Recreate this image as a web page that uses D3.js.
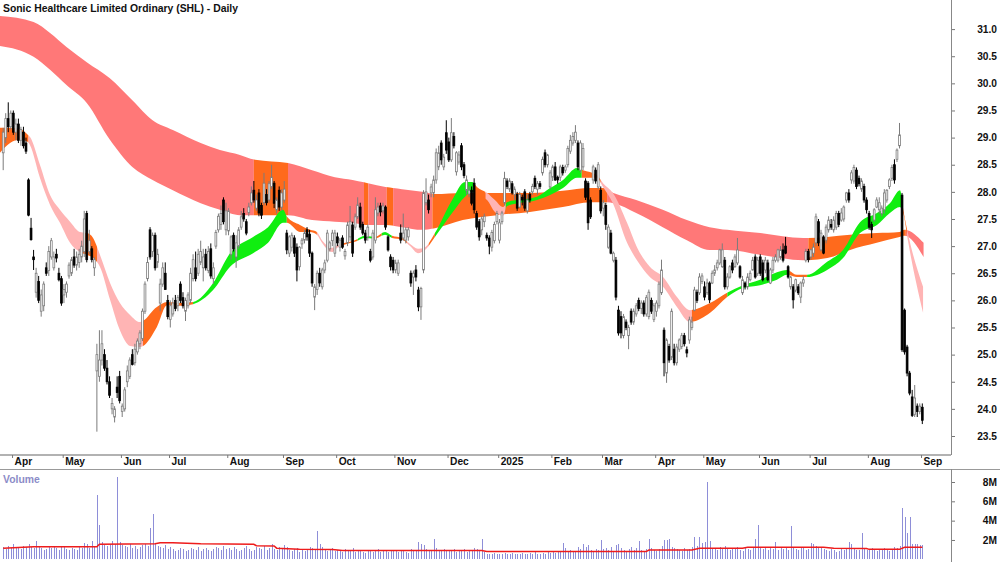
<!DOCTYPE html>
<html>
<head>
<meta charset="utf-8">
<script src="https://cdn.jsdelivr.net/npm/d3@7"></script>
<style>
body { margin: 0; background: #fff; }
text { font-family: "Liberation Sans", Arial, sans-serif; font-weight: bold; }
</style>
</head>
<body>
<svg id="chart" width="1000" height="562"></svg>
<script>
// month axis: label and index of first trading day
var months = ["Apr","May","Jun","Jul","Aug","Sep","Oct","Nov","Dec","2025","Feb","Mar","Apr","May","Jun","Jul","Aug","Sep"];
var monthStart = [4,24,47,66,89,111,132,155,176,196,217,237,258,277,299,319,342,363];

var priceTicks = [23.5,24.0,24.5,25.0,25.5,26.0,26.5,27.0,27.5,28.0,28.5,29.0,29.5,30.0,30.5,31.0];
var volumeTicks = [2,4,6,8];

// daily candles [open, high, low, close], 25 Mar 2024 .. 1 Sep 2025
var ohlc = [
// Mar 2024
[28.72,29.18,28.4,29.1],[29.0,29.45,28.9,29.35],[29.35,29.65,29.1,29.2],[29.2,29.5,29.15,29.45],
// Apr
[29.45,29.5,29.05,29.1],[29.1,29.35,28.95,29.25],[29.25,29.35,28.9,28.95],[28.95,29.2,28.85,29.15],
[29.1,29.2,28.8,28.85],[28.9,29.0,28.7,28.75],[28.22,28.25,27.55,27.57],[27.33,27.52,27.1,27.12],
[26.8,26.93,26.56,26.75],[26.15,26.6,26.05,26.5],[26.35,26.45,25.95,26.0],[25.8,26.2,25.7,26.1],
[25.9,26.35,25.8,26.3],[26.6,26.7,26.45,26.5],[26.55,27.0,26.45,26.9],[26.8,27.15,26.75,27.1],
[26.6,26.9,26.55,26.8],[26.85,26.95,26.7,26.78],[26.5,26.6,26.35,26.38],[26.4,26.45,25.9,25.95],
// May
[26.1,26.3,25.95,26.2],[26.15,26.35,26.05,26.3],[26.45,26.7,26.4,26.65],[26.5,26.8,26.45,26.75],
[26.8,26.95,26.6,26.65],[26.65,26.9,26.55,26.8],[26.7,26.95,26.6,26.85],[26.8,27.1,26.7,27.0],
[26.9,27.65,26.8,27.5],[27.6,27.65,26.7,26.75],[26.9,27.3,26.85,27.1],[26.95,27.0,26.7,26.75],
[26.6,26.8,26.45,26.75],[24.7,25.2,23.58,25.0],[24.6,25.45,24.5,24.9],[24.9,25.45,24.8,25.2],
[25.0,25.1,24.7,24.75],[24.75,24.9,24.45,24.5],[24.5,24.6,24.2,24.25],[24.0,24.2,23.9,24.1],
[23.85,24.05,23.75,24.0],[24.4,24.6,24.2,24.3],[24.6,24.7,24.1,24.15],
// Jun
[23.95,24.1,23.85,24.05],[24.0,24.4,23.95,24.35],[24.5,24.8,24.4,24.7],[24.6,24.95,24.55,24.9],
[25.0,25.1,24.8,24.82],[24.85,25.2,24.8,25.1],[25.05,25.3,25.0,25.25],[25.2,25.45,25.1,25.4],
[25.3,25.85,25.25,25.8],[25.8,26.35,25.75,26.3],[26.4,26.8,26.35,26.7],[27.3,27.35,26.75,26.8],
[26.9,27.25,26.8,27.2],[27.2,27.25,26.55,26.6],[26.7,26.95,26.6,26.85],[25.95,26.4,25.8,26.3],
[26.3,26.7,26.25,26.6],[26.5,26.7,26.2,26.2],[26.0,26.1,25.65,25.7],
// Jul
[25.65,26.0,25.5,25.9],[25.75,26.05,25.7,25.95],[26.0,26.1,25.8,25.85],[25.9,26.1,25.8,26.05],
[26.3,26.35,25.95,26.0],[26.05,26.15,25.85,25.9],[25.8,26.05,25.62,26.0],[25.9,26.15,25.85,26.1],
[26.0,26.6,25.95,26.5],[26.4,26.85,26.35,26.75],[26.6,26.9,26.35,26.4],[26.5,26.95,26.45,26.85],
[26.7,27.1,26.65,26.9],[26.6,26.95,26.35,26.8],[26.85,26.95,26.55,26.6],[26.55,27.0,26.5,26.9],
[26.95,27.05,26.4,26.45],[26.4,26.7,26.3,26.6],[27.0,27.3,26.95,27.25],[27.3,27.6,27.25,27.55],
[27.4,27.75,27.3,27.6],[27.85,27.9,27.4,27.45],[27.3,27.8,27.2,27.65],
// Aug
[27.28,27.7,27.2,27.65],[26.85,27.2,26.75,27.17],[27.2,27.25,26.9,26.95],[26.8,27.2,26.6,27.06],
[27.0,27.35,26.95,27.3],[27.35,27.65,27.3,27.54],[27.6,27.7,27.45,27.5],[27.45,27.5,27.2,27.24],
[27.62,27.8,27.55,27.72],[27.8,28.1,27.75,27.98],[28.03,28.2,27.8,27.85],[27.7,27.95,27.65,27.85],
[27.98,28.05,27.55,27.61],[27.75,27.8,27.5,27.57],[27.8,28.35,27.75,28.16],[27.95,28.05,27.75,27.8],
[27.85,28.2,27.8,28.15],[28.1,28.5,28.05,28.27],[28.16,28.2,27.7,27.79],[27.67,27.9,27.6,27.85],
[28.03,28.1,27.65,27.72],[27.72,28.05,27.65,27.98],
// Sep
[27.85,28.2,27.8,28.05],[27.24,27.3,26.85,26.93],[26.87,27.2,26.8,27.17],[26.98,27.25,26.9,27.2],
[27.15,27.2,26.8,26.87],[26.98,27.05,26.35,26.56],[26.62,27.0,26.55,26.98],[27.04,27.15,26.95,27.11],
[27.11,27.3,27.05,27.24],[27.3,27.35,27.1,27.17],[27.22,27.3,26.8,26.87],[26.87,26.9,26.25,26.32],
[26.06,26.3,25.82,26.25],[26.2,26.55,26.1,26.5],[26.5,26.6,26.25,26.32],[26.25,26.6,26.2,26.56],
[26.56,26.75,26.5,26.69],[26.74,27.3,26.7,27.24],[26.95,27.1,26.9,27.06],[27.1,27.3,27.0,27.24],
[26.87,27.3,26.8,27.24],
// Oct
[27.17,27.25,27.0,27.06],[26.98,27.15,26.9,27.11],[27.15,27.2,26.95,26.98],[26.82,26.95,26.75,26.9],
[27.06,27.45,27.0,27.39],[27.17,27.74,27.1,27.45],[27.39,27.45,26.8,26.87],[27.35,27.6,27.3,27.54],
[27.54,27.9,27.5,27.76],[27.72,27.8,27.3,27.35],[27.4,27.45,27.2,27.24],[27.24,27.3,27.05,27.11],
[27.17,27.4,27.1,27.35],[26.9,26.95,26.7,26.74],[26.8,27.3,26.75,27.24],[27.11,27.9,27.05,27.67],
[27.61,27.8,27.55,27.72],[27.74,27.8,27.55,27.63],[27.65,27.8,27.6,27.74],[27.72,27.75,27.3,27.35],
[27.17,27.2,26.9,26.93],[26.8,26.85,26.55,26.62],[26.74,26.8,26.5,26.56],
// Nov
[26.56,26.75,26.5,26.69],[26.5,26.75,26.45,26.69],[27.24,27.4,27.05,27.11],[27.15,27.6,27.1,27.24],
[27.11,27.35,27.05,27.3],[27.17,27.35,27.1,27.3],[26.5,26.55,26.25,26.32],[26.43,26.55,26.1,26.5],
[26.56,26.65,26.35,26.43],[26.19,26.25,25.8,25.88],[25.88,26.25,25.64,26.22],[26.56,28.03,26.5,27.98],
[27.8,28.25,27.75,28.0],[27.85,27.95,27.6,27.67],[27.98,28.15,27.9,28.09],[27.98,28.3,27.9,28.22],
[28.22,28.8,28.15,28.72],[28.46,28.85,28.4,28.72],[28.9,28.95,28.5,28.59],[28.46,28.7,28.4,28.64],
[29.09,29.32,28.7,28.77],
// Dec
[28.92,29.0,28.55,28.59],[28.59,29.36,28.55,29.09],[29.02,29.1,28.8,28.85],[28.37,28.75,28.3,28.72],
[28.55,28.75,28.5,28.68],[28.85,28.9,28.4,28.46],[28.5,28.55,28.25,28.3],[28.03,28.3,27.95,28.22],
[27.96,28.1,27.9,28.03],[28.03,28.1,27.75,27.79],[28.16,28.25,27.6,27.67],[27.6,27.65,27.3,27.35],
[27.45,27.5,27.1,27.17],[27.3,27.55,27.2,27.5],[27.45,27.6,27.35,27.55],[27.2,27.25,27.1,27.15],
[27.15,27.2,26.85,27.0],[26.98,27.3,26.9,27.25],[27.1,27.45,27.05,27.4],[27.45,27.65,27.4,27.6],
// Jan 2025
[27.11,27.5,27.05,27.43],[27.45,27.65,27.4,27.61],[27.8,28.37,27.75,28.25],[28.2,28.25,28.05,28.1],
[28.05,28.25,28.0,28.2],[28.15,28.2,27.95,27.98],[27.95,28.1,27.85,28.05],[27.95,28.0,27.65,27.7],
[27.72,28.0,27.7,27.95],[27.9,27.95,27.75,27.85],[28.0,28.05,27.65,27.7],[27.65,27.95,27.6,27.85],
[27.95,28.0,27.8,27.85],[28.0,28.15,27.95,28.1],[28.25,28.3,28.05,28.1],[28.05,28.2,27.95,28.15],
[28.15,28.2,28.05,28.1],[28.35,28.65,28.3,28.6],[28.72,28.78,28.45,28.5],[28.5,28.7,28.45,28.68],
[28.09,28.4,28.05,28.35],
// Feb
[28.27,28.5,28.2,28.46],[28.46,28.55,28.2,28.22],[28.27,28.3,28.15,28.22],[28.27,28.5,28.2,28.46],
[28.45,28.5,28.3,28.35],[28.4,28.5,28.35,28.46],[28.5,28.85,28.45,28.8],[28.75,29.05,28.7,28.95],
[28.9,29.1,28.85,29.02],[28.95,29.23,28.9,29.1],[28.9,28.95,28.4,28.46],[28.4,28.95,28.35,28.9],
[28.46,28.9,28.4,28.8],[28.2,28.25,27.85,27.9],[28.16,28.2,27.3,27.43],[27.85,27.9,27.5,27.54],
[28.22,28.5,28.15,28.46],[28.4,28.45,28.15,28.2],[28.09,28.55,28.05,28.5],[28.03,28.1,27.6,27.65],
// Mar
[27.7,27.85,27.55,27.8],[27.75,27.8,27.3,27.4],[26.98,27.4,26.95,27.35],[27.24,27.3,26.85,26.87],
[26.74,26.9,26.7,26.87],[26.74,26.8,26.0,26.06],[25.82,25.9,25.35,25.4],[25.7,25.8,25.3,25.4],
[25.35,25.75,25.3,25.7],[25.6,25.65,25.45,25.5],[25.35,25.55,25.1,25.5],[25.8,25.85,25.55,25.6],
[25.6,25.85,25.55,25.8],[25.75,25.95,25.7,25.9],[26.0,26.05,25.8,25.85],[25.85,26.0,25.75,25.95],
[25.95,26.0,25.7,25.75],[25.75,26.1,25.7,26.05],[25.7,26.2,25.65,26.15],[26.0,26.05,25.75,25.8],
[25.65,25.95,25.6,25.9],
// Apr
[25.8,26.0,25.7,25.95],[25.9,26.35,25.85,26.3],[26.14,26.75,26.1,26.56],[25.45,25.5,24.6,24.85],
[24.66,25.3,24.48,25.27],[25.15,25.2,24.85,24.9],[24.95,25.85,24.9,25.8],[25.1,25.2,24.8,24.85],
[24.85,25.2,24.8,25.14],[25.1,25.3,25.05,25.27],[25.15,25.4,25.1,25.35],[25.35,25.4,25.15,25.2],
[25.09,25.15,24.95,25.03],[25.27,25.7,25.2,25.64],[25.5,25.7,25.45,25.6],[25.82,26.25,25.8,26.19],
[26.15,26.2,25.95,26.0],[26.14,26.5,26.1,26.43],[26.35,26.5,26.3,26.45],
// May
[26.25,26.35,26.0,26.06],[26.14,26.4,26.1,26.32],[26.32,26.35,25.95,26.01],[26.32,26.55,26.3,26.5],
[26.5,26.65,26.45,26.56],[26.6,26.75,26.55,26.69],[26.69,26.95,26.65,26.93],[26.62,27.05,26.6,26.93],
[26.74,26.8,26.2,26.25],[26.25,26.5,26.2,26.43],[26.43,26.65,26.4,26.62],[26.69,26.75,26.5,26.56],
[26.62,26.85,26.6,26.8],[26.69,27.15,26.65,26.93],[26.62,26.65,26.4,26.43],[26.14,26.45,26.1,26.38],
[26.32,26.35,26.2,26.25],[26.25,26.5,26.2,26.43],[26.38,26.55,26.35,26.5],[26.56,26.8,26.55,26.74],
[26.8,26.85,26.4,26.43],[26.5,26.8,26.45,26.74],
// Jun
[26.8,26.85,26.45,26.5],[26.69,26.75,26.35,26.38],[26.56,26.8,26.5,26.74],[26.69,26.75,26.35,26.38],
[26.32,26.6,26.3,26.56],[26.56,26.8,26.5,26.74],[26.74,26.85,26.7,26.8],[26.74,26.95,26.7,26.93],
[26.8,27.0,26.75,26.93],[26.93,27.05,26.7,26.74],[27.0,27.17,26.85,26.87],[26.62,26.65,26.4,26.43],
[26.25,26.45,26.2,26.43],[26.25,26.3,25.85,26.01],[26.19,26.4,26.15,26.38],[26.25,26.3,26.1,26.14],
[26.06,26.35,25.95,26.32],[26.32,26.45,26.25,26.38],[26.74,26.95,26.7,26.9],[26.9,26.95,26.7,26.75],
// Jul
[26.8,26.95,26.75,26.93],[26.87,27.05,26.8,26.98],[27.06,27.6,27.0,27.54],[27.45,27.5,27.0,27.06],
[26.93,27.3,26.9,27.24],[27.17,27.2,26.85,26.87],[27.11,27.4,27.05,27.35],[27.3,27.55,27.25,27.48],
[27.4,27.5,27.3,27.35],[27.3,27.55,27.25,27.48],[27.35,27.65,27.3,27.6],[27.6,27.65,27.35,27.4],
[27.48,27.7,27.45,27.61],[27.5,27.75,27.45,27.72],[27.85,28.0,27.8,27.98],[27.98,28.05,27.8,27.85],
[28.22,28.4,28.15,28.35],[28.2,28.5,28.15,28.45],[28.4,28.45,28.05,28.1],[28.25,28.3,28.1,28.15],
[28.05,28.25,28.0,28.2],[28.1,28.15,27.8,27.85],[27.85,27.9,27.6,27.67],
// Aug
[27.6,27.65,27.3,27.35],[27.4,27.45,27.15,27.3],[27.48,27.7,27.45,27.67],[27.72,27.9,27.7,27.85],
[27.67,27.9,27.6,27.8],[27.6,27.75,27.55,27.7],[27.67,28.05,27.6,27.98],[27.85,28.05,27.8,28.03],
[28.1,28.25,28.05,28.22],[28.25,28.5,28.2,28.45],[28.5,28.6,28.15,28.22],[28.6,28.8,28.55,28.77],
[28.85,29.27,28.8,29.05],[27.94,27.98,25.05,25.09],[25.82,25.85,25.0,25.05],[25.14,25.18,24.6,24.66],
[24.66,24.7,24.25,24.29],[24.22,24.35,23.85,23.88],[23.9,24.44,23.85,24.2],[24.05,24.1,23.85,23.95],
[23.95,24.1,23.9,24.05],
// Sep
[24.03,24.1,23.72,23.79]
];

// daily volume, millions
var volumes = [
1.3,1.1,1.4,1.2,
1.6,1.3,1.2,1.1,1.4,1.3,1.6,1.3,1.2,1.9,1.3,1.2,1.0,1.1,1.3,1.2,1.4,1.2,1.0,1.3,
1.3,1.1,1.0,1.2,1.1,1.0,1.3,1.2,1.7,1.6,1.2,1.9,1.4,6.7,3.6,1.8,1.5,1.4,1.6,1.9,1.6,8.5,1.8,
1.5,1.4,1.3,1.6,1.2,1.4,1.1,1.3,1.5,1.6,1.4,3.2,4.7,1.7,1.4,1.3,1.2,1.5,1.1,
1.3,1.1,0.9,1.0,1.2,1.1,0.9,1.0,1.2,1.1,1.0,1.3,0.9,1.1,1.2,1.0,0.9,1.1,1.3,1.2,1.0,1.4,1.1,
1.2,1.0,1.3,1.1,0.9,1.0,1.2,1.4,1.1,0.9,1.0,1.3,1.2,1.1,1.4,1.0,1.2,1.6,1.1,1.0,1.3,1.2,
1.5,1.3,1.0,0.9,1.1,1.2,0.8,1.0,0.9,1.1,1.3,1.2,1.1,2.9,1.6,1.3,1.0,0.9,1.1,1.2,0.9,
1.0,0.9,0.8,1.1,0.9,1.0,1.2,0.8,0.9,1.0,0.8,0.7,0.9,1.0,0.8,0.9,1.1,0.8,0.9,1.0,0.8,0.9,1.0,
0.9,0.8,1.0,0.9,0.8,0.7,1.1,0.9,1.0,1.8,1.6,1.5,1.1,0.9,1.0,2.1,1.2,1.0,0.9,1.1,1.0,
1.0,0.9,1.1,0.8,1.0,0.9,1.1,0.8,0.9,1.0,1.2,1.1,1.0,2.1,0.8,0.6,0.5,0.6,0.7,0.6,
0.5,0.6,0.7,0.6,0.5,0.7,0.6,0.5,0.6,0.7,0.6,0.5,0.7,0.6,0.8,0.6,0.5,0.7,0.6,0.8,0.7,
0.8,0.7,0.9,0.8,1.7,1.2,0.9,1.0,0.8,0.9,1.3,1.1,1.6,1.3,1.5,1.0,0.9,1.1,1.0,2.0,
1.1,1.2,1.0,1.3,0.9,1.5,1.6,1.2,1.0,0.9,1.1,1.3,1.0,1.2,1.9,1.0,0.9,1.1,2.1,1.2,1.0,
0.9,1.1,1.4,2.0,2.0,2.1,1.3,1.2,1.1,1.0,0.9,1.2,1.0,1.1,1.3,2.3,1.4,2.3,1.7,
1.8,8.0,1.9,1.2,1.1,1.0,1.3,1.2,1.4,1.1,1.0,1.2,1.1,1.3,1.0,0.9,1.2,1.1,1.0,1.3,2.1,3.5,
1.2,1.1,1.3,1.0,1.2,1.1,1.8,1.0,1.2,1.1,1.3,1.0,3.4,1.2,1.1,1.0,1.3,1.2,1.0,1.1,
1.7,1.6,1.4,1.2,1.3,1.1,1.0,0.9,1.1,1.0,0.8,0.9,1.1,1.0,1.2,1.8,1.6,1.1,1.0,1.0,2.7,1.1,1.0,
1.0,1.2,1.1,0.9,1.0,1.1,1.2,1.0,0.9,1.1,1.3,1.2,1.4,5.3,4.4,2.7,4.4,1.6,1.6,1.6,1.5,
1.5
];

// volume average line [day index, millions]
var volumeAvg = [[0,1.15],[12,1.3],[37,1.3],[38,1.55],[60,1.6],[62,1.7],[67,1.7],[78,1.6],[99,1.55],
[100,1.4],[107,1.38],[108,1.15],[117,1.05],[130,1.02],[134,0.92],[151,0.9],[189,0.9],[191,0.8],
[254,0.8],[255,0.95],[272,0.97],[275,1.15],[292,1.15],[294,1.25],[324,1.25],[328,1.15],[341,1.12],
[342,1.03],[354,1.03],[356,1.25],[363,1.25]];

// long-term moving average band [day index, upper, lower]
var longBand = [[-1.3,31.24,30.69],[12,31.13,30.49],[18.5,30.93,30.25],[25,30.67,29.97],[33,30.39,29.64],
[42,30.10,28.97],[51,29.69,28.46],[59,29.32,28.22],[67,29.14,28.03],[78,28.90,27.79],[85.6,28.77,27.67],
[93.5,28.68,27.57],[99.5,28.59,27.57],[112.5,28.53,27.57],[122,28.40,27.48],[131,28.27,27.45],
[138,28.22,27.43],[144,28.16,27.39],[151,28.09,27.39],[157.5,28.05,27.35],[165.5,28.0,27.30],
[170.5,27.96,27.33],[181.5,27.98,27.48],[195,27.98,27.57],[208,27.98,27.63],[221,28.02,27.72],
[232,28.07,27.81],[237,28.07,27.81],[241,27.98,27.79],[250,27.85,27.61],[260.5,27.67,27.35],
[270,27.48,27.11],[279,27.35,26.93],[286,27.30,26.93],[299,27.24,26.84],[316,27.15,26.74],
[325.5,27.17,26.78],[334.5,27.21,26.93],[345,27.24,27.06],[354,27.26,27.17],[356,27.30,27.19],
[363.5,27.06,26.80]];
var longColors = [[-2,99,"red"],[99,112.5,"orange"],[112.5,142.5,"red"],[142.5,144.2,"orange"],
[144.2,151.5,"red"],[151.5,154,"orange"],[154,169.5,"red"],[169.5,238.5,"orange"],[238.5,318,"red"],
[318,356.5,"orange"],[356.5,365,"red"]];

// short-term moving average band [day index, upper, lower]
var shortBand = [[-1.3,29.18,28.72],[2.7,29.18,28.90],[6.6,29.16,28.96],[9.8,29.05,28.92],[10.6,29.01,28.86],
[14.5,28.50,28.26],[18.5,27.94,27.76],[22.4,27.67,27.43],[26.4,27.45,27.06],[30.3,27.26,26.89],
[33.1,27.24,26.84],[35.5,27.15,26.78],[38.2,26.84,26.62],[42.2,26.32,26.01],[46.1,25.95,25.45],
[50.1,25.73,25.16],[54,25.60,25.14],[60.7,25.88,25.51],[64.7,25.97,25.91],[69.8,25.95,25.90],
[75,25.97,25.93],[82.9,26.32,26.19],[89.6,26.87,26.62],[98.7,27.17,26.87],[104.6,27.35,27.06],
[110.5,27.67,27.43],[112.1,27.54,27.43],[117.2,27.39,27.26],[121.2,27.30,27.26],[123.9,27.26,27.21],
[125.9,27.11,27.06],[129.9,26.97,26.89],[132.2,27.02,26.98],[135,27.06,27.03],[138.9,27.11,27.08],
[142.9,27.19,27.15],[146.8,27.17,27.14],[150.8,27.26,27.21],[153.6,27.19,27.15],[157.5,27.15,27.12],
[160.7,27.04,27.0],[163.8,26.95,26.87],[166.6,26.98,26.93],[170.5,27.24,27.17],[177.3,27.85,27.61],
[182.4,28.18,27.91],[185.2,28.18,28.0],[187.1,28.09,27.94],[191.1,27.98,27.85],[194.2,27.85,27.63],
[197.4,27.72,27.56],[199,27.81,27.74],[210.8,27.91,27.85],[216,28.07,27.94],[221.1,28.22,28.07],
[226.6,28.44,28.26],[229,28.40,28.26],[234.5,28.31,28.26],[236.9,28.16,28.09],[240.8,27.98,27.79],
[246.4,27.43,27.06],[250.3,26.98,26.74],[255.4,26.62,26.43],[260.6,26.43,26.25],[266.1,26.06,25.88],
[271.2,25.82,25.60],[279.2,25.95,25.77],[285.9,26.14,26.06],[292.2,26.28,26.23],[298.9,26.38,26.28],
[305.6,26.52,26.38],[309.6,26.56,26.47],[313.5,26.47,26.43],[317.5,26.47,26.43],[325.4,26.71,26.56],
[331.7,26.93,26.78],[338.4,27.44,27.24],[345.1,27.61,27.39],[350.2,27.79,27.61],[354.2,28.03,27.72],
[355.7,27.61,27.56],[357.3,27.24,27.11],[363.3,26.25,25.77]];
var shortColors = [[-2,10,"orange"],[10,31.5,"pink"],[31.5,37,"orange"],[37,55.2,"pink"],[55.2,75,"orange"],
[75,112,"green"],[112,123.9,"orange"],[123.9,134,"pink"],[134,140,"orange"],[140,146,"green"],
[146,149.5,"orange"],[149.5,153.5,"green"],[153.5,159.5,"orange"],[159.5,168,"pink"],[168,170.5,"orange"],
[170.5,186,"green"],[186,190.5,"orange"],[190.5,198.5,"pink"],[198.5,228.5,"green"],[228.5,236,"orange"],
[236,272,"pink"],[272,286,"orange"],[286,310.5,"green"],[310.5,317.5,"orange"],[317.5,355.3,"green"],
[355.3,357,"orange"],[357,365,"pink"]];

var palette = {red: "#ff7878", orange: "#ff6a1c", pink: "#ffb4b4", green: "#10ee10"};

var svg = d3.select("#chart");
var axisX = 951;

var x = d3.scaleLinear().domain([0, 363]).range([3.2, 922.3]);
var y = d3.scaleLinear().domain([23.5, 31.0]).range([436, 29.1]);
var yv = d3.scaleLinear().domain([0, 8]).range([559.3, 482]);

var defs = svg.append("defs");
var plot = svg.append("g");

function drawBand(band, runs, name) {
    var area = d3.area()
        .x(function (d) { return x(d[0]); })
        .y0(function (d) { return y(d[2]); })
        .y1(function (d) { return y(d[1]); })
        .curve(d3.curveMonotoneX);
    runs.forEach(function (r, k) {
        var id = name + k;
        defs.append("clipPath").attr("id", id)
          .append("rect")
            .attr("x", x(r[0])).attr("y", 0)
            .attr("width", Math.max(0, Math.min(axisX, x(r[1])) - x(r[0])))
            .attr("height", 454);
        plot.append("path")
            .attr("d", area(band))
            .attr("fill", palette[r[2]])
            .attr("clip-path", "url(#" + id + ")");
    });
}
drawBand(longBand, longColors, "lc");
drawBand(shortBand, shortColors, "sc");

// candles
var candles = plot.selectAll(".candle").data(ohlc).enter().append("g").attr("class", "candle");
candles.append("line")
    .attr("x1", function (d, i) { return x(i); })
    .attr("x2", function (d, i) { return x(i); })
    .attr("y1", function (d) { return y(d[1]); })
    .attr("y2", function (d) { return y(d[2]); })
    .attr("stroke", function (d) { return d[3] >= d[0] ? "#7c7c7c" : "#000"; })
    .attr("stroke-width", 1);
candles.append("rect")
    .attr("x", function (d, i) { return x(i) - 0.9; })
    .attr("width", 1.8)
    .attr("y", function (d) { return y(Math.max(d[0], d[3])); })
    .attr("height", function (d) { return Math.max(0.8, Math.abs(y(d[0]) - y(d[3]))); })
    .attr("fill", function (d) { return d[3] >= d[0] ? "#fff" : "#000"; })
    .attr("stroke", function (d) { return d[3] >= d[0] ? "#7c7c7c" : "#000"; })
    .attr("stroke-width", 0.8);

// title
svg.append("text").attr("x", 3).attr("y", 12)
    .style("font-size", "10.4px").attr("fill", "#111")
    .text("Sonic Healthcare Limited Ordinary (SHL) - Daily");

// price axis
var yAxis = d3.axisRight(y).tickValues(priceTicks).tickFormat(d3.format(".1f")).tickSize(4);
var yAxisG = svg.append("g").attr("transform", "translate(" + axisX + ",0)").call(yAxis);
yAxisG.select(".domain").remove();
yAxisG.selectAll("line").attr("stroke", "#777");
yAxisG.selectAll("text").attr("x", 46).attr("text-anchor", "end")
    .style("font-size", "10.2px").attr("fill", "#111");
svg.append("line").attr("x1", axisX + 0.5).attr("x2", axisX + 0.5).attr("y1", 0).attr("y2", 455)
    .attr("stroke", "#888");

// month axis
svg.append("line").attr("x1", 0).attr("x2", axisX).attr("y1", 455).attr("y2", 455)
    .attr("stroke", "#999").attr("stroke-width", 1.5);
svg.append("line").attr("x1", 0).attr("x2", 1000).attr("y1", 469.5).attr("y2", 469.5)
    .attr("stroke", "#999").attr("stroke-width", 1.2);
var xAxis = d3.axisBottom(x)
    .tickValues(monthStart.map(function (i) { return i - 0.5; }))
    .tickFormat(function (d, k) { return months[k]; })
    .tickSize(3).tickSizeOuter(0);
var xAxisG = svg.append("g").attr("transform", "translate(0,455)").call(xAxis);
xAxisG.select(".domain").remove();
xAxisG.selectAll("line").attr("stroke", "#777");
xAxisG.selectAll("text").attr("text-anchor", "start").attr("x", 2).attr("y", 3)
    .style("font-size", "10.2px").attr("fill", "#111");

// volume panel
svg.append("text").attr("x", 3).attr("y", 483)
    .style("font-size", "10.4px").attr("fill", "#8c8cc8").text("Volume");
svg.append("g").attr("shape-rendering", "crispEdges").selectAll("rect").data(volumes).enter().append("rect")
    .attr("x", function (d, i) { return Math.round(x(i)); })
    .attr("width", 1)
    .attr("y", function (d) { return yv(d); })
    .attr("height", function (d) { return yv(0) - yv(d); })
    .attr("fill", "#8e8ed8");
svg.append("path")
    .attr("d", d3.line().x(function (d) { return x(d[0]); }).y(function (d) { return yv(d[1]); })(volumeAvg))
    .attr("fill", "none").attr("stroke", "#ee1c1c").attr("stroke-width", 1.5);

var vAxis = d3.axisRight(yv).tickValues(volumeTicks).tickFormat(function (d) { return d + "M"; }).tickSize(4);
var vAxisG = svg.append("g").attr("transform", "translate(" + axisX + ",0)").call(vAxis);
vAxisG.select(".domain").remove();
vAxisG.selectAll("line").attr("stroke", "#777");
vAxisG.selectAll("text").attr("x", 46).attr("text-anchor", "end")
    .style("font-size", "10.2px").attr("fill", "#111");
svg.append("line").attr("x1", axisX + 0.5).attr("x2", axisX + 0.5).attr("y1", 469).attr("y2", 562)
    .attr("stroke", "#888");
</script>
</body>
</html>
